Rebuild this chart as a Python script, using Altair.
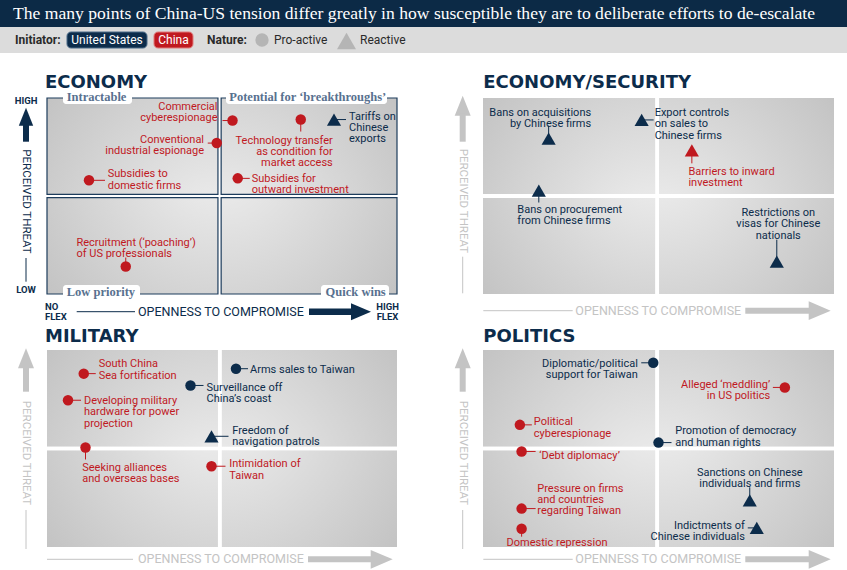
import altair as alt
import pandas as pd

NAVY = "#0c2c4b"
RED = "#c0191f"
BAR = "#0c2a46"
LEG_BG = "#dcdcdc"
GREY = "#c4c4c4"
QLAB = "#58718f"
SANS = "Roboto"
SERIF = "Liberation Serif"
HEADF = "DejaVu Sans"

TITLE = ("The many points of China-US tension differ greatly in how susceptible "
         "they are to deliberate efforts to de-escalate")
INITIATORS = ["United States", "China"]
NATURES = ["Pro-active", "Reactive"]

# ---------------- data (openness to compromise 0-10, perceived threat 0-10) ----------------
eco_names = ["Commercial\ncyberespionage", "Conventional\nindustrial espionage",
             "Subsidies to\ndomestic firms", "Technology transfer\nas  condition for\nmarket access",
             "Tariffs on\nChinese\nexports", "Subsidies for\noutward investment",
             "Recruitment (‘poaching’)\nof US professionals"]
eco_open = [5.3, 4.85, 1.2, 7.25, 8.2, 5.45, 2.25]
eco_threat = [8.85, 7.7, 5.8, 8.9, 8.9, 5.9, 1.4]
eco_who = ["China", "China", "China", "China", "United States", "China", "China"]
eco_kind = ["Pro-active", "Pro-active", "Pro-active", "Pro-active", "Reactive", "Pro-active", "Pro-active"]

sec_names = ["Bans on acquisitions\nby Chinese firms", "Export controls\non sales to\nChinese firms",
             "Barriers to inward\ninvestment", "Bans on procurement\nfrom Chinese firms",
             "Restrictions on\nvisas for Chinese\nnationals"]
sec_open = [1.87, 4.52, 5.95, 1.59, 8.37]
sec_threat = [7.93, 8.88, 7.33, 5.28, 1.65]
sec_who = ["United States", "United States", "China", "United States", "United States"]
sec_kind = ["Reactive", "Reactive", "Reactive", "Reactive", "Reactive"]

mil_names = ["South China\nSea fortification", "Developing military\nhardware for power\nprojection",
             "Surveillance off\nChina’s coast", "Arms sales to Taiwan", "Freedom of\nnavigation patrols",
             "Seeking alliances\nand overseas bases", "Intimidation of\nTaiwan"]
mil_open = [1.05, 0.6, 4.1, 5.4, 4.7, 1.1, 4.7]
mil_threat = [8.8, 7.45, 8.2, 9.05, 5.62, 5.05, 4.1]
mil_who = ["China", "China", "United States", "United States", "United States", "China", "China"]
mil_kind = ["Pro-active", "Pro-active", "Pro-active", "Pro-active", "Reactive", "Pro-active", "Pro-active"]

pol_names = ["Diplomatic/political\nsupport for Taiwan", "Alleged ‘meddling’\nin US politics",
             "Political\ncyberespionage", "Promotion of democracy\nand human rights", "‘Debt diplomacy’",
             "Sanctions on Chinese\nindividuals and firms", "Pressure on firms\nand countries\nregarding Taiwan",
             "Indictments of\nChinese individuals", "Domestic repression"]
pol_open = [4.85, 8.6, 1.05, 5.0, 1.1, 7.6, 1.1, 7.8, 1.1]
pol_threat = [9.35, 8.1, 6.2, 5.3, 4.85, 2.37, 1.95, 0.97, 0.93]
pol_who = ["United States", "China", "China", "United States", "China", "United States", "China",
           "United States", "China"]
pol_kind = ["Pro-active", "Pro-active", "Pro-active", "Pro-active", "Pro-active", "Reactive", "Pro-active",
            "Reactive", "Pro-active"]

# ---------------- label layout: pixel offsets (label dx, first-line dy, align, leader dx, leader dy) ----------------
eco_lay = [(-15, -15.3, "right", -10, 0), (-12.7, -4.3, "right", -9, 0), (18.7, -7.4, "left", 16, 0),
           (32, 19.7, "right", 0, 12), (15, -4, "left", 12, 0), (14, -1, "left", 12, 0),
           (-49.3, -25.3, "left", 0, -9)]
sec_lay = [(42.5, -27, "right", 0, -13), (13, -8.3, "left", 12, 0), (-3.4, 19.8, "left", 0, 13),
           (-21.5, 17.8, "left", 0, 12), (1.5, -50, "center", 0, -22)]
mil_lay = [(15, -10.7, "left", 12, 0), (16, -0.6, "left", 13, 0), (16, 0.6, "left", 13, 0),
           (14, 0, "left", 12, 0), (20.8, -7, "left", 17, 0), (-3.3, 19, "left", 0, 12),
           (17.7, -3.4, "left", 14, 0)]
pol_lay = [(-15.4, 0, "right", -12, 0), (-14.7, -3.7, "right", -12, 0), (14, -4, "left", 12, 0),
           (16.7, -12.7, "left", 13, 0), (17.6, 2.7, "left", 14, 0), (0, -28.6, "center", 0, -13),
           (15.7, -21, "left", 14, 0), (-11.9, -3.8, "right", -9, 0), (-15, 13.3, "left", 0, 8)]

ONE = pd.DataFrame({"v": [0]})
UP = "M0,-1L-0.8,1L0.8,1Z"
RIGHT = "M1,0L-1,-0.85L-1,0.85Z"


def txt(text, x, y, **kw):
    p = dict(font=SANS, fontSize=12, color=NAVY, align="left", baseline="middle")
    p.update(kw)
    return alt.Chart(ONE).mark_text(text=text, lineBreak="\n", **p).encode(
        x=alt.value(x), y=alt.value(y))


def seg(x1, y1, x2, y2, color, w):
    return alt.Chart(ONE).mark_rule(color=color, strokeWidth=w).encode(
        x=alt.value(x1), y=alt.value(y1), x2=alt.value(x2), y2=alt.value(y2))


def head(x, y, path, size, color):
    return alt.Chart(ONE).mark_point(shape=path, size=size, filled=True, opacity=1,
                                     color=color, strokeWidth=0).encode(x=alt.value(x), y=alt.value(y))


def box(x1, y1, x2, y2, fill, **kw):
    return alt.Chart(ONE).mark_rect(fill=fill, **kw).encode(
        x=alt.value(x1), x2=alt.value(x2), y=alt.value(y1), y2=alt.value(y2))


def panel(names, xs, ys, who, kind, lay, geo, dark):
    x0, x1, yb, yt, mid = geo
    sx = (x1 - x0) / 10.0
    sy = (yb - yt) / 10.0
    XS = alt.Scale(domain=[0, 10], range=[x0, x1], nice=False, zero=False)
    YS = alt.Scale(domain=[0, 10], range=[yb, yt], nice=False, zero=False)
    gap = 1.6 if dark else 2.0
    out = []
    for a, b, c, d, gx, gy in [(0, mid, 5, 10, 1, 1), (mid, 10, 5, 10, 0, 1),
                               (0, mid, 0, 5, 1, 0), (mid, 10, 0, 5, 0, 0)]:
        grad = alt.RadialGradient(gradient="radial", x1=gx, y1=gy, r1=0, x2=gx, y2=gy, r2=1.3,
                                  stops=[alt.GradientStop(color="#f0f0f0", offset=0),
                                         alt.GradientStop(color="#c2c2c2", offset=1)])
        props = dict(fill=grad)
        if dark:
            props.update(stroke="#1d3c5c", strokeWidth=1.2)
        if a == mid:
            props["xOffset"] = gap
        else:
            props["x2Offset"] = -gap
        if c == 5:
            props["yOffset"] = -gap
        else:
            props["y2Offset"] = gap
        q = pd.DataFrame({"a": [a], "b": [b], "c": [c], "d": [d]})
        out.append(alt.Chart(q).mark_rect(**props).encode(
            x=alt.X("a:Q", scale=XS, axis=None), x2="b:Q",
            y=alt.Y("c:Q", scale=YS, axis=None), y2="d:Q"))

    df = pd.DataFrame({"name": names, "x": xs, "y": ys, "who": who, "kind": kind})
    df["lx"] = [x + l[0] / sx for x, l in zip(xs, lay)]
    df["ly"] = [y - (l[1] - 4.5) / sy for y, l in zip(ys, lay)]
    df["align"] = [l[2] for l in lay]
    df["cx"] = [x + l[3] / sx for x, l in zip(xs, lay)]
    df["cy"] = [y - l[4] / sy for y, l in zip(ys, lay)]
    col = alt.Color("who:N", scale=alt.Scale(domain=INITIATORS, range=[NAVY, RED]), legend=None)
    X = alt.X("x:Q", scale=XS, axis=None)
    Y = alt.Y("y:Q", scale=YS, axis=None)
    base = alt.Chart(df)
    out.append(base.mark_rule(strokeWidth=1).encode(x=X, y=Y, x2="cx:Q", y2="cy:Q", color=col))
    out.append(base.transform_filter(alt.datum.kind == "Pro-active").mark_point(
        shape="circle", filled=True, size=110, opacity=1, strokeWidth=0).encode(x=X, y=Y, color=col))
    out.append(base.transform_filter(alt.datum.kind == "Reactive").mark_point(
        shape="triangle-up", filled=True, size=200, opacity=1, strokeWidth=0).encode(x=X, y=Y, color=col))
    for al in ["left", "right", "center"]:
        if al in df["align"].tolist():
            out.append(base.transform_filter(alt.datum.align == al).mark_text(
                align=al, baseline="top", lineBreak="\n", font=SANS, fontSize=11, lineHeight=11.2).encode(
                x=alt.X("lx:Q", scale=XS, axis=None), y=alt.Y("ly:Q", scale=YS, axis=None),
                text="name:N", color=col))
    return out


def light_axes(ax, htop, shaft_end, tcy, l0, l1, by, bl0, bl1, bt, tip):
    c = GREY
    return [
        head(ax, htop + 10, UP, 400, c),
        seg(ax, htop + 18, ax, shaft_end, c, 6),
        txt("PERCEIVED THREAT", ax, tcy, angle=90, align="center", color=c, fontSize=11.5),
        seg(ax, l0, ax, l1, c, 1),
        seg(bl0, by, bl1, by, c, 1),
        txt("OPENNESS TO COMPROMISE", bt, by, color=c, fontSize=12.5),
        seg(bt + 170, by, tip - 18, by, c, 6),
        head(tip - 11, by, RIGHT, 484, c),
    ]


layers = []
# header bar and legend row
layers += [
    box(0, 0, 847, 27, BAR),
    box(0, 27, 847, 53, LEG_BG),
    txt(TITLE, 13, 14, font=SERIF, fontSize=17.6, color="white"),
    txt("Initiator:", 15, 40, fontWeight="bold", color="#2a2a2a"),
    box(67, 32, 147, 48, NAVY, cornerRadius=4, stroke="#4a6a88", strokeWidth=1),
    txt("United States", 107, 40, align="center", color="white"),
    box(154, 32, 193, 48, RED, cornerRadius=4, stroke="#e07a7a", strokeWidth=1),
    txt("China", 173.5, 40, align="center", color="white"),
    txt("Nature:", 207, 40, fontWeight="bold", color="#2a2a2a"),
    head(262, 40, "circle", 177, "#b5b5b5"),
    txt("Pro-active", 274, 40, color="#2a2a2a"),
    head(346.5, 41, "triangle-up", 361, "#b5b5b5"),
    txt("Reactive", 360, 40, color="#2a2a2a"),
]

# ECONOMY panel
layers += panel(eco_names, eco_open, eco_threat, eco_who, eco_kind, eco_lay, (47, 397, 294, 98, 4.93), True)
qfont = dict(font=SERIF, fontSize=12.5, fontWeight="bold", color=QLAB)
layers += [
    txt("ECONOMY", 45, 87.5, font=HEADF, fontWeight="bold", fontSize=18, baseline="alphabetic"),
    box(63, 90, 132, 104, "white", cornerRadius=3),
    txt("Intractable", 66.7, 97.3, **qfont),
    box(226, 90, 387, 104, "white", cornerRadius=3),
    txt("Potential for ‘breakthroughs’", 229.3, 97.3, **qfont),
    box(63, 285, 140, 299, "white", cornerRadius=3),
    txt("Low priority", 66.7, 292.3, **qfont),
    box(321, 285, 389, 299, "white", cornerRadius=3),
    txt("Quick wins", 385.7, 292.3, align="right", **qfont),
    txt("HIGH", 26, 101, align="center", fontWeight="bold", fontSize=9.5),
    head(26, 116.7, UP, 324, NAVY),
    seg(26, 123, 26, 141.7, NAVY, 6),
    txt("PERCEIVED THREAT", 26, 201.5, angle=90, align="center", fontSize=11.5),
    seg(26, 258, 26, 281.7, NAVY, 1),
    txt("LOW", 26, 290, align="center", fontWeight="bold", fontSize=9.5),
    txt("NO\nFLEX", 45, 301.6, baseline="top", fontWeight="bold", fontSize=9.5, lineHeight=10),
    seg(76.7, 311.7, 135, 311.7, NAVY, 1),
    txt("OPENNESS TO COMPROMISE", 138, 311.7, fontSize=12.5),
    seg(309, 311.7, 356, 311.7, NAVY, 6.5),
    head(361, 311.7, RIGHT, 400, NAVY),
    txt("HIGH\nFLEX", 387.5, 301.6, align="center", baseline="top", fontWeight="bold", fontSize=9.5,
        lineHeight=10),
]

# ECONOMY/SECURITY panel
layers += panel(sec_names, sec_open, sec_threat, sec_who, sec_kind, sec_lay, (483, 834, 294, 98, 4.96), False)
layers += [txt("ECONOMY/SECURITY", 483.3, 87.5, font=HEADF, fontWeight="bold", fontSize=18,
               baseline="alphabetic")]
layers += light_axes(462.7, 95.7, 141.7, 200.9, 256.7, 293.3, 310.7, 483.3, 572.7, 575.3, 830.7)

# MILITARY panel
layers += panel(mil_names, mil_open, mil_threat, mil_who, mil_kind, mil_lay, (47, 397, 547, 350, 4.94), False)
layers += [txt("MILITARY", 45, 342, font=HEADF, fontWeight="bold", fontSize=18, baseline="alphabetic")]
layers += light_axes(26, 348.3, 391.7, 453, 510, 549, 559.3, 47, 133, 138, 392.7)

# POLITICS panel
layers += panel(pol_names, pol_open, pol_threat, pol_who, pol_kind, pol_lay, (483, 834, 547, 350, 4.96), False)
layers += [txt("POLITICS", 483.3, 342, font=HEADF, fontWeight="bold", fontSize=18, baseline="alphabetic")]
layers += light_axes(462.7, 348.3, 391.7, 453, 510, 549, 559.3, 483.3, 572.7, 575.3, 830.7)

chart = alt.layer(*layers).resolve_scale(x="independent", y="independent").properties(
    width=847, height=570, autosize=alt.AutoSizeParams(type="none"), padding=0, background="white"
).configure_view(stroke="transparent")

chart.save("out.html", embed_options={"renderer": "svg", "actions": False})
